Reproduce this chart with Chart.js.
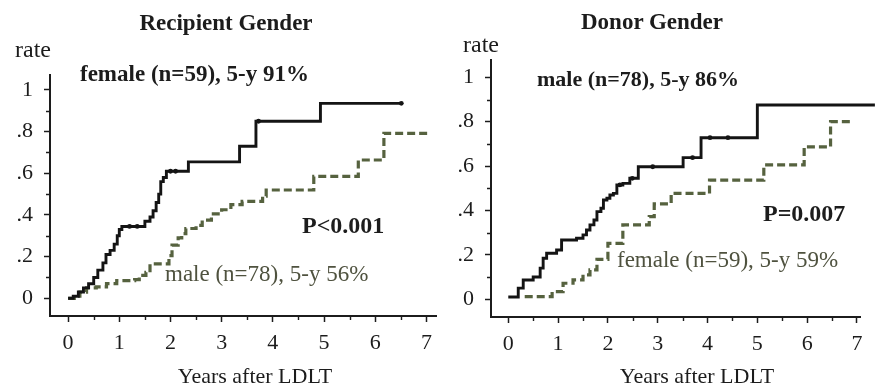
<!DOCTYPE html>
<html>
<head>
<meta charset="utf-8">
<title>Cumulative rate by recipient and donor gender</title>
<script src="https://cdn.jsdelivr.net/npm/chart.js@4.4.1/dist/chart.umd.min.js"></script>
<style>
  html, body { margin: 0; padding: 0; background: #ffffff; }
  #wrap { position: relative; width: 876px; height: 387px; overflow: hidden;
          font-family: 'Liberation Serif', 'Times New Roman', serif; color: #1c1c1c; }
  #wrap canvas { position: absolute; top: 0; }
  .t { position: absolute; white-space: nowrap; line-height: 1; }
  .b { font-weight: bold; }
  .c { transform: translateX(-50%); }
  .g { color: #4f523f; }
</style>
</head>
<body>
<div id="wrap">
  <canvas id="recipient" width="440" height="387" style="left:0px"></canvas>
  <canvas id="donor" width="436" height="387" style="left:440px"></canvas>

  <div class="t b c" style="left:226px;top:11px;font-size:23px">Recipient Gender</div>
  <div class="t" style="left:15px;top:37px;font-size:24px">rate</div>
  <div class="t b" style="left:80px;top:62px;font-size:23px">female (n=59), 5-y 91%</div>
  <div class="t b" style="left:302px;top:213px;font-size:24px">P&lt;0.001</div>
  <div class="t g" style="left:165px;top:262px;font-size:23px">male (n=78), 5-y 56%</div>
  <div class="t c" style="left:255px;top:365px;font-size:22px">Years after LDLT</div>

  <div class="t b c" style="left:652px;top:10px;font-size:23px">Donor Gender</div>
  <div class="t" style="left:463px;top:32px;font-size:24px">rate</div>
  <div class="t b" style="left:537px;top:68px;font-size:22px">male (n=78), 5-y 86%</div>
  <div class="t b" style="left:763px;top:201px;font-size:24px">P=0.007</div>
  <div class="t g" style="left:617px;top:248px;font-size:23px">female (n=59), 5-y 59%</div>
  <div class="t c" style="left:697px;top:365px;font-size:22px">Years after LDLT</div>
</div>

<script>
// Axis ticks
const yearTicks  = [0, 1, 2, 3, 4, 5, 6, 7];
const yearLabels = ['0', '1', '2', '3', '4', '5', '6', '7'];
const yearMinor  = [0.5, 1.5, 2.5, 3.5, 4.5, 5.5, 6.5];
const rateTicks  = [0, 0.2, 0.4, 0.6, 0.8, 1];
const rateLabels = ['0', '.2', '.4', '.6', '.8', '1'];
const rateMinor  = [0.1, 0.3, 0.5, 0.7, 0.9];

// Recipient gender: female recipients (solid)
const recipFemaleYears = [0, 0.1, 0.2, 0.3, 0.4, 0.5, 0.58, 0.68, 0.74, 0.82, 0.9, 0.96, 1.0, 1.05,
                          1.5, 1.6, 1.66, 1.72, 1.77, 1.81, 1.86, 1.92, 2.35, 3.35, 3.67, 4.93, 6.51];
const recipFemaleRate  = [0, 0.01, 0.03, 0.05, 0.07, 0.1, 0.135, 0.17, 0.21, 0.23, 0.26, 0.3, 0.33, 0.345,
                          0.37, 0.39, 0.42, 0.46, 0.5, 0.56, 0.58, 0.61, 0.655, 0.73, 0.85, 0.936, 0.936];
const recipFemaleCensor = [1.2, 1.35, 2.0, 2.1, 3.72, 6.51];

// Recipient gender: male recipients (dashed)
const recipMaleYears = [0, 0.12, 0.23, 0.36, 0.55, 0.75, 0.95, 1.3, 1.39, 1.52, 1.6, 1.97, 2.03, 2.15,
                        2.22, 2.3, 2.5, 2.62, 2.8, 3.0, 3.18, 3.4, 3.8, 3.87, 4.8, 5.67, 6.17, 7.05];
const recipMaleRate  = [0, 0.01, 0.03, 0.05, 0.055, 0.07, 0.085, 0.09, 0.11, 0.125, 0.165, 0.205, 0.255, 0.29,
                        0.31, 0.335, 0.35, 0.375, 0.405, 0.425, 0.45, 0.465, 0.49, 0.52, 0.585, 0.664, 0.792, 0.792];

// Donor gender: male donors (solid)
const donorMaleYears = [0, 0.2, 0.3, 0.5, 0.64, 0.7, 0.77, 0.97, 1.07, 1.37, 1.5, 1.57, 1.64, 1.72,
                        1.78, 1.86, 1.91, 1.98, 2.04, 2.11, 2.18, 2.3, 2.44, 2.61, 3.51, 3.87, 5.0, 7.36];
const donorMaleRate  = [0.01, 0.05, 0.087, 0.1, 0.14, 0.185, 0.207, 0.222, 0.267, 0.275, 0.29, 0.312, 0.335, 0.357,
                        0.395, 0.41, 0.447, 0.455, 0.47, 0.477, 0.515, 0.522, 0.545, 0.597, 0.638, 0.728, 0.875, 0.875];
const donorMaleCensor = [2.24, 2.49, 2.9, 3.7, 4.05, 4.41, 7.36];

// Donor gender: female donors (dashed)
const donorFemaleYears = [0.33, 0.88, 1.1, 1.3, 1.5, 1.64, 1.78, 2.0, 2.3, 2.83, 2.93, 3.27, 4.04, 5.13, 5.94, 6.47, 6.86];
const donorFemaleRate  = [0.012, 0.034, 0.072, 0.087, 0.11, 0.132, 0.18, 0.252, 0.335, 0.372, 0.43, 0.477, 0.537, 0.605, 0.687, 0.8, 0.8];

const INK = '#1c1c1c';
const OLIVE = '#56623f';

function toPoints(xs, ys) {
  return xs.map((x, i) => ({ x: x, y: ys[i] }));
}

// Value of a step curve at time t (last step at or before t)
function rateAt(xs, ys, t) {
  let v = ys[0];
  for (let i = 0; i < xs.length; i++) if (xs[i] <= t) v = ys[i];
  return v;
}

// Short minor ticks between the labelled ones
const minorTicks = {
  id: 'minorTicks',
  afterDraw(chart) {
    const { ctx, chartArea, scales } = chart;
    ctx.save();
    ctx.strokeStyle = INK;
    ctx.lineWidth = 1.4;
    ctx.beginPath();
    yearMinor.forEach(v => {
      const px = Math.round(scales.x.getPixelForValue(v)) + 0.5;
      ctx.moveTo(px, chartArea.bottom);
      ctx.lineTo(px, chartArea.bottom + 4);
    });
    rateMinor.forEach(v => {
      const py = Math.round(scales.y.getPixelForValue(v)) + 0.5;
      ctx.moveTo(chartArea.left, py);
      ctx.lineTo(chartArea.left - 4, py);
    });
    ctx.stroke();
    ctx.restore();
  }
};

function makePanel(id, solid, dashed, censor, frame) {
  const tickFont = { family: "'Liberation Serif', 'Times New Roman', serif", size: 22 };
  return new Chart(document.getElementById(id), {
    type: 'line',
    data: {
      datasets: [
        {
          data: toPoints(solid.xs, solid.ys),
          stepped: 'before',
          borderColor: '#141414',
          borderWidth: 2.9,
          pointRadius: 0,
          fill: false,
          clip: { left: 0, top: 0, right: 30, bottom: 0 }
        },
        {
          data: toPoints(dashed.xs, dashed.ys),
          stepped: 'before',
          borderColor: OLIVE,
          borderWidth: 3.2,
          borderDash: [8, 4],
          pointRadius: 0,
          fill: false
        },
        {
          type: 'scatter',
          data: censor.map(t => ({ x: t, y: rateAt(solid.xs, solid.ys, t) })),
          pointRadius: 2.4,
          pointBackgroundColor: '#141414',
          pointBorderWidth: 0,
          showLine: false,
          clip: { left: 0, top: 0, right: 30, bottom: 0 }
        }
      ]
    },
    options: {
      responsive: false,
      animation: false,
      devicePixelRatio: 1,
      layout: { padding: { top: frame.top, right: frame.right, left: 0, bottom: 0 } },
      plugins: { legend: { display: false }, tooltip: { enabled: false }, title: { display: false } },
      scales: {
        x: {
          type: 'linear',
          min: frame.xMin, max: frame.xMax,
          afterFit: s => { s.height = frame.xAxisH; },
          afterBuildTicks: s => { s.ticks = yearTicks.map(v => ({ value: v })); },
          ticks: {
            autoSkip: false, maxRotation: 0, padding: 8, color: INK, font: tickFont,
            callback: v => yearLabels[yearTicks.indexOf(v)] ?? ''
          },
          grid: { drawOnChartArea: false, drawTicks: true, tickLength: 6, tickColor: INK, tickWidth: 1.5 },
          border: { display: true, color: INK, width: 2 }
        },
        y: {
          type: 'linear',
          min: frame.yMin, max: frame.yMax,
          afterFit: s => { s.width = frame.yAxisW; },
          afterBuildTicks: s => { s.ticks = rateTicks.map(v => ({ value: v })); },
          ticks: {
            autoSkip: false, padding: 11, color: INK, font: tickFont,
            callback: v => rateLabels[rateTicks.indexOf(v)] ?? ''
          },
          grid: { drawOnChartArea: false, drawTicks: true, tickLength: 6, tickColor: INK, tickWidth: 1.5 },
          border: { display: true, color: INK, width: 2 }
        }
      }
    },
    plugins: [minorTicks]
  });
}

makePanel('recipient',
  { xs: recipFemaleYears, ys: recipFemaleRate },
  { xs: recipMaleYears, ys: recipMaleRate },
  recipFemaleCensor,
  { top: 75, right: 0, xAxisH: 71, yAxisW: 50, xMin: -0.354, xMax: 7.188, yMin: -0.085, yMax: 1.072 });

makePanel('donor',
  { xs: donorMaleYears, ys: donorMaleRate },
  { xs: donorFemaleYears, ys: donorFemaleRate },
  donorMaleCensor,
  { top: 60, right: 16, xAxisH: 70, yAxisW: 51, xMin: -0.347, xMax: 7.061, yMin: -0.080, yMax: 1.078 });
</script>
</body>
</html>
